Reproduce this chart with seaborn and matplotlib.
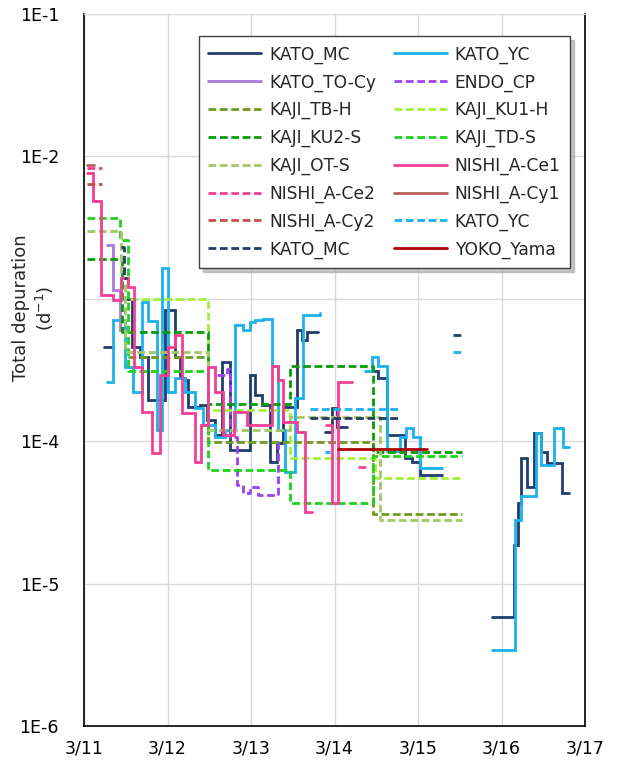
import numpy as np
import pandas as pd
import seaborn as sns
import matplotlib.pyplot as plt
from matplotlib.lines import Line2D
from matplotlib.ticker import NullLocator

# x = days after 3/11 00:00, y = total depuration (d^-1); None splits a series
kato_mc_x = [0.24, 0.335, None,
             0.514, 0.574, 0.67, 0.766, 0.969, 1.089, 1.148, 1.208, 1.244, 1.388, 1.471, 1.567, 1.651,
             1.746, 1.986, 2.045, 2.129, 2.225, 2.309, 2.38, 2.548, 2.608, 2.667, 2.80, None,
             2.883, 2.967, 3.026, 3.146, None,
             3.445, 3.517, 3.624, 3.84, 3.923, 4.019, 4.282, None,
             4.892, 5.144, 5.203, 5.239, 5.311, 5.395, 5.478, 5.55, 5.73, 5.813]
kato_mc_y = [4.6e-4, 4.6e-4, None,
             1.0e-3, 4.6e-4, 3.9e-4, 1.95e-4, 8.3e-4, 3.9e-4, 2.8e-4, 2.7e-4, 1.74e-4, 1.8e-4, 1.41e-4, 1.1e-4, 3.6e-4,
             8.7e-5, 2.9e-4, 2.1e-4, 1.8e-4, 7.1e-5, 9.7e-5, 1.74e-4, 6.0e-4, 5.1e-4, 5.8e-4, 5.8e-4, None,
             1.16e-4, 1.71e-4, 1.26e-4, 1.26e-4, None,
             3.1e-4, 2.8e-4, 1.1e-4, 7.6e-5, 7.1e-5, 5.8e-5, 5.8e-5, None,
             5.8e-6, 1.87e-5, 3.7e-5, 7.6e-5, 4.8e-5, 1.14e-4, 8.4e-5, 7.0e-5, 4.3e-5, 4.3e-5]

kato_yc_x = [0.275, 0.347, 0.49, 0.586, 0.694, 0.766, 0.873, 0.933, 1.005, 1.089, 1.208, 1.328, 1.423,
             1.567, 1.687, 1.806, 1.902, 1.986, 2.045, 2.141, 2.249, 2.321, 2.404, 2.524, 2.62, 2.823, None,
             3.361, 3.445, 3.517, 3.624, 3.78, 3.852, 3.935, 4.019, 4.282, None,
             4.892, 5.167, 5.239, 5.419, 5.478, 5.634, 5.742, 5.813]
kato_yc_y = [2.6e-4, 7.1e-4, 3.3e-4, 2.2e-4, 9.5e-4, 7.0e-4, 1.2e-4, 1.64e-3, 2.2e-4, 2.8e-4, 2.2e-4, 1.7e-4, 1.3e-4,
             1.07e-4, 1.2e-4, 6.5e-4, 6.0e-4, 6.9e-4, 7.1e-4, 7.2e-4, 3.4e-4, 1.2e-4, 6.1e-5, 2.0e-4, 7.7e-4, 7.9e-4, None,
             3.1e-4, 3.9e-4, 3.4e-4, 8.5e-5, 1.07e-4, 1.24e-4, 1.07e-4, 6.5e-5, 6.5e-5, None,
             3.4e-6, 2.8e-5, 4.1e-5, 1.14e-4, 6.8e-5, 1.24e-4, 9.1e-5, 9.1e-5]

kato_to_x = [0.275, 0.347, 0.43, 0.514]
kato_to_y = [2.4e-3, 1.15e-3, 6.0e-4, 6.0e-4]

endo_x = [1.591, 1.711, 1.746, 1.83, 1.902, 1.986, 2.081, 2.321, 2.40]
endo_y = [2.9e-4, 3.2e-4, 1.07e-4, 4.9e-5, 4.3e-5, 4.8e-5, 4.2e-5, 9.7e-5, 9.7e-5]

tb_h_x = [0.526, 1.483, 3.457, 4.522]
tb_h_y = [3.9e-4, 9.9e-5, 3.1e-5, 3.1e-5]

ku1_h_x = [0.55, 1.483, 2.464, 3.481, 4.522]
ku1_h_y = [1.0e-3, 1.66e-4, 7.6e-5, 5.5e-5, 5.5e-5]

ku2_s_x = [0.04, 0.455, 1.483, 2.464, 3.457, 4.522]
ku2_s_y = [1.9e-3, 5.8e-4, 1.82e-4, 3.4e-4, 8.4e-5, 8.4e-5]

td_s_x = [0.04, 0.43, 0.526, 1.483, 2.464, 3.457, 4.522]
td_s_y = [3.7e-3, 2.6e-3, 3.1e-4, 6.3e-5, 3.7e-5, 7.9e-5, 7.9e-5]

ot_s_x = [0.04, 0.44, 0.49, 1.483, 2.464, 3.541, 4.522]
ot_s_y = [3.0e-3, 1.3e-3, 4.2e-4, 1.2e-4, 1.48e-4, 2.8e-5, 2.8e-5]

ce1_x = [0.04, 0.108, 0.20, 0.347, 0.443, 0.526, 0.598, 0.694, 0.813, 0.909, 1.005, 1.089, 1.172, 1.328,
         1.40, 1.483, 1.567, 1.663, 1.80, 1.95, 2.249, 2.321, 2.38, 2.548, 2.644, 2.727, None,
         2.967, 2.967, 3.038, 3.206]
ce1_y = [7.6e-3, 4.9e-3, 1.06e-3, 9.8e-4, 1.4e-3, 1.21e-3, 3.3e-4, 1.6e-4, 8.3e-5, 2.9e-4, 4.6e-4, 5.6e-4, 1.58e-4, 7.1e-5,
         1.3e-4, 3.3e-4, 2.2e-4, 1.1e-4, 1.6e-4, 1.3e-4, 3.4e-4, 2.7e-4, 1.36e-4, 1.16e-4, 3.2e-5, 3.2e-5, None,
         1.3e-4, 3.7e-5, 2.6e-4, 2.6e-4]

ce2_x = [0.04, 0.215, None, 2.883, 2.967, None, 3.278, 3.385]
ce2_y = [8.3e-3, 8.3e-3, None, 1.3e-4, 1.3e-4, None, 6.6e-5, 6.6e-5]

cy1_x = [0.04, 0.12]
cy1_y = [8.7e-3, 8.7e-3]

cy2_x = [0.04, 0.215]
cy2_y = [6.4e-3, 6.4e-3]

kato_yc2_x = [2.703, 3.756, None, 2.883, 2.943, None, 4.414, 4.522]
kato_yc2_y = [1.68e-4, 1.68e-4, None, 8.4e-5, 8.4e-5, None, 4.2e-4, 4.2e-4]

kato_mc2_x = [0.443, 0.48, 0.514, None, 2.703, 3.756, None, 4.414, 4.522]
kato_mc2_y = [2.3e-3, 1.4e-3, 1.4e-3, None, 1.46e-4, 1.46e-4, None, 5.6e-4, 5.6e-4]

yoko_x = [3.038, 4.103]
yoko_y = [8.8e-5, 8.8e-5]

day_labels = ['3/11', '3/12', '3/13', '3/14', '3/15', '3/16', '3/17']

# name, x, y, color, dashed
series = [
    ('KATO_MC', kato_mc_x, kato_mc_y, '#203D6B', False),
    ('KATO_YC', kato_yc_x, kato_yc_y, '#19B2EC', False),
    ('KATO_TO-Cy', kato_to_x, kato_to_y, '#A77BD8', False),
    ('ENDO_CP', endo_x, endo_y, '#A040F5', True),
    ('KAJI_TB-H', tb_h_x, tb_h_y, '#6E9A1E', True),
    ('KAJI_KU1-H', ku1_h_x, ku1_h_y, '#A5F03C', True),
    ('KAJI_KU2-S', ku2_s_x, ku2_s_y, '#0A9A0A', True),
    ('KAJI_TD-S', td_s_x, td_s_y, '#1ED21E', True),
    ('KAJI_OT-S', ot_s_x, ot_s_y, '#A2C863', True),
    ('NISHI_A-Ce1', ce1_x, ce1_y, '#F23F94', False),
    ('NISHI_A-Ce2', ce2_x, ce2_y, '#F23F94', True),
    ('NISHI_A-Cy1', cy1_x, cy1_y, '#B9605C', False),
    ('NISHI_A-Cy2', cy2_x, cy2_y, '#C4504C', True),
    ('KATO_YC', kato_yc2_x, kato_yc2_y, '#1AB2EC', True),
    ('KATO_MC', kato_mc2_x, kato_mc2_y, '#203D6B', True),
    ('YOKO_Yama', yoko_x, yoko_y, '#B00000', False),
]

sns.set_style("white")
plt.rcParams['font.family'] = ['DejaVu Sans']

fig = plt.figure(figsize=(6.18, 7.71), dpi=100)
ax = fig.add_axes([84/618, 1-726/771, 501/618, 712/771])

LW = 2.0
DASH = (2.8, 1.3)
handles = []
for name, xs, ys, color, dashed in series:
    rows = []
    piece = 0
    for x, y in zip(xs, ys):
        if x is None:
            piece += 1
            continue
        rows.append((x, y, piece))
    df = pd.DataFrame(rows, columns=['day', 'value', 'piece'])
    kw = dict(dashes=DASH) if dashed else {}
    sns.lineplot(data=df, x='day', y='value', units='piece', estimator=None, sort=False,
                 color=color, lw=LW, drawstyle='steps-post', solid_joinstyle='miter',
                 ax=ax, legend=False, **kw)
    handles.append(Line2D([], [], color=color, lw=LW, label=name,
                          dashes=DASH if dashed else (None, None)))

ax.set_yscale('log')
ax.set_ylim(1e-6, 1e-1)
ax.set_xlim(0, 6)
ax.set_xticks(range(7))
ax.set_xticklabels(day_labels)
ax.set_yticks([1e-6, 1e-5, 1e-4, 1e-3, 1e-2, 1e-1])
ax.set_yticklabels(['1E-6', '1E-5', '1E-4', '', '1E-2', '1E-1'])
ax.yaxis.set_minor_locator(NullLocator())
ax.grid(True, color='#D9D9D9', lw=1.0)
ax.set_axisbelow(True)
ax.tick_params(axis='both', direction='out', length=6, width=1, colors='black', labelsize=12.5, pad=4)
ax.tick_params(axis='y', pad=12)
for side in ['left', 'bottom', 'right']:
    ax.spines[side].set_color('black')
    ax.spines[side].set_linewidth(1.2)
ax.spines['top'].set_color('#D9D9D9')
ax.set_xlabel('')
ax.set_ylabel('')

fig.text(34/618, 1-308/771, 'Total depuration\n(d$^{-1}$)', rotation=90, ha='center', va='center',
         multialignment='center', fontsize=13)

# excel fills legend rows first; matplotlib fills columns first
order = list(range(0, 16, 2)) + list(range(1, 16, 2))
leg = ax.legend(handles=[handles[i] for i in order], ncol=2, loc='upper right',
                bbox_to_anchor=(0.970, 0.969), borderaxespad=0, fontsize=12.3,
                handlelength=3.1, handletextpad=0.45, columnspacing=1.05, labelspacing=0.56,
                borderpad=0.55, frameon=True, fancybox=False, framealpha=1,
                shadow={'ox': 3, 'oy': -3, 'color': '#ABABAB', 'alpha': 0.7})
leg.get_frame().set_edgecolor('#404040')
leg.get_frame().set_linewidth(1.0)

fig.savefig('out.png', dpi=100)
